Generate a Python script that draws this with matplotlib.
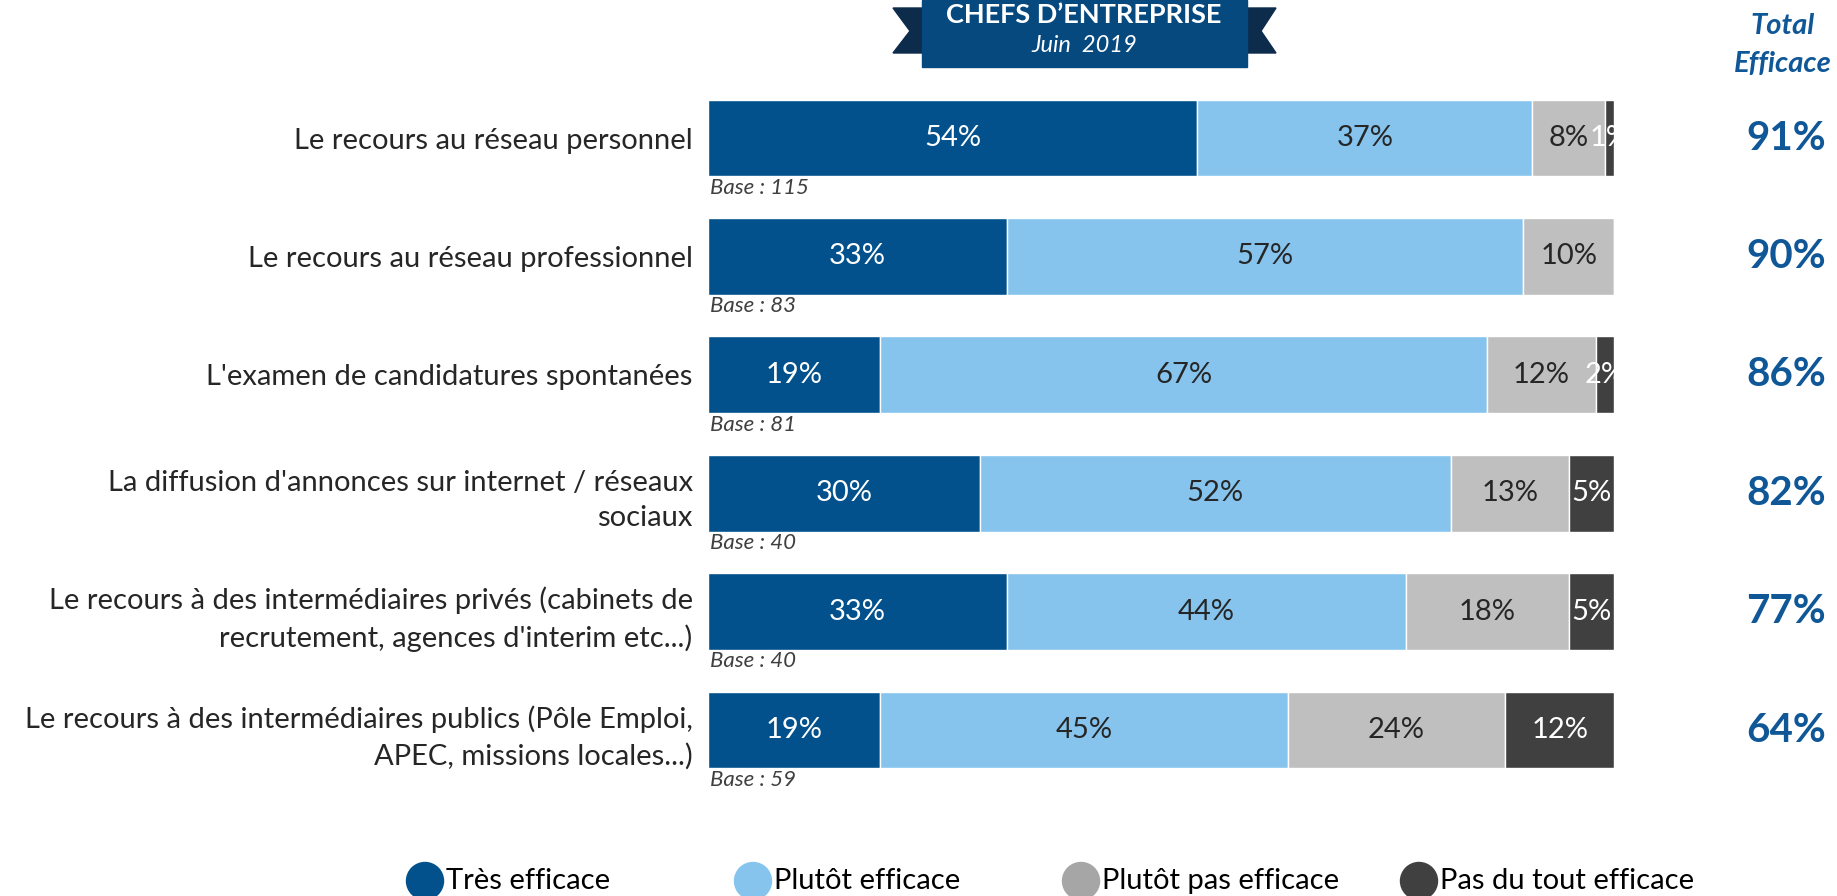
import numpy as np
import matplotlib
matplotlib.use("Agg")
import matplotlib.pyplot as plt
from matplotlib.patches import Circle, Polygon, Rectangle
from matplotlib.transforms import blended_transform_factory

plt.rcParams["font.family"] = ["Lato", "DejaVu Sans"]

# ============================================
# DATA
# ============================================

categories = [
    "Le recours au réseau personnel",
    "Le recours au réseau professionnel",
    "L'examen de candidatures spontanées",
    "La diffusion d'annonces sur internet / réseaux\nsociaux",
    "Le recours à des intermédiaires privés (cabinets de\nrecrutement, agences d'interim etc...)",
    "Le recours à des intermédiaires publics (Pôle Emploi,\nAPEC, missions locales...)",
]
bases = [115, 83, 81, 40, 40, 59]

tres_efficace = [54, 33, 19, 30, 33, 19]
plutot_efficace = [37, 57, 67, 52, 44, 45]
plutot_pas = [8, 10, 12, 13, 18, 24]
pas_du_tout = [1, 0, 2, 5, 5, 12]

series_names = ["Très efficace", "Plutôt efficace", "Plutôt pas efficace", "Pas du tout efficace"]
bar_colors = ["#02518C", "#86C4EE", "#BFBFBF", "#404040"]
legend_colors = ["#02518C", "#86C4EE", "#A6A6A6", "#404040"]
text_colors = ["white", "#262626", "#262626", "white"]

total_color = "#0F5797"

# ============================================
# FIGURE
# ============================================

W, H = 1837, 896
fig = plt.figure(figsize=(W / 100, H / 100), dpi=100)

# main axes (pixel layout from the reference)
ax_left, ax_right = 708 / W, 1614 / W
ax_top, ax_bottom = 1 - 78.8 / H, 1 - 789.2 / H
ax = fig.add_axes([ax_left, ax_bottom, ax_right - ax_left, ax_top - ax_bottom])

y = np.arange(len(categories))
all_series = [tres_efficace, plutot_efficace, plutot_pas, pas_du_tout]
left = np.zeros(len(categories))

for vals, col, tcol in zip(all_series, bar_colors, text_colors):
    vals = np.array(vals, dtype=float)
    ax.barh(y, vals, left=left, height=0.65, color=col,
            edgecolor="white", linewidth=1)
    for i, v in enumerate(vals):
        if v > 0:
            ax.text(left[i] + v / 2, y[i], f"{int(v)}%", ha="center",
                    va="center", color=tcol, fontsize=21)
    left += vals

for i, b in enumerate(bases):
    ax.text(0.2, y[i] + 0.42, f"Base : {b}", ha="left", va="center",
            fontsize=16, style="italic", color="#404040")

ax.set_xlim(0, 100)
ax.set_ylim(5.5, -0.5)
ax.set_yticks(y)
ax.set_yticklabels(categories, fontsize=21, color="#262626", linespacing=1.45)
ax.tick_params(axis="y", length=0, pad=11)
ax.set_xticks([])
for s in ax.spines.values():
    s.set_visible(False)

# totals on the right
totals = [a + b for a, b in zip(tres_efficace, plutot_efficace)]
trans = blended_transform_factory(fig.transFigure, ax.transData)
for i, t in enumerate(totals):
    ax.text(1786 / W, y[i], f"{t}%", transform=trans, ha="center",
            va="center", fontsize=29, fontweight="bold", color=total_color)

# ============================================
# OVERLAY (header, column title, legend)
# ============================================

ov = fig.add_axes([0, 0, 1, 1], zorder=5)
ov.set_xlim(0, W)
ov.set_ylim(H, 0)
ov.axis("off")
ov.patch.set_alpha(0)

# ribbon banner
tail = "#0D2B4B"
ov.add_patch(Polygon([[893, 8], [925, 8], [925, 53], [893, 53], [910, 31]],
                     closed=True, color=tail))
ov.add_patch(Polygon([[1244, 8], [1276, 8], [1261, 31], [1276, 53], [1244, 53]],
                     closed=True, color=tail))
ov.add_patch(Rectangle((922, 0), 325, 67, color="#06497F"))
ov.text(1084, 15, "CHEFS D\u2019ENTREPRISE", ha="center", va="center",
        color="white", fontsize=19.5, fontweight="bold")
ov.text(1084, 46, "Juin  2019", ha="center", va="center",
        color="white", fontsize=17, style="italic")

# column title
ov.text(1783, 26, "Total", ha="center", va="center", fontsize=21,
        fontweight="bold", style="italic", color=total_color)
ov.text(1783, 64, "Efficace", ha="center", va="center", fontsize=21,
        fontweight="bold", style="italic", color=total_color)

# legend
leg_x = [425, 753, 1081, 1419]
for lx, name, col in zip(leg_x, series_names, legend_colors):
    ov.add_patch(Circle((lx, 881), 18.5, color=col))
    ov.text(lx + 21, 881, name, ha="left", va="center", fontsize=21,
            color="black")

fig.savefig("out.png", dpi=100)
